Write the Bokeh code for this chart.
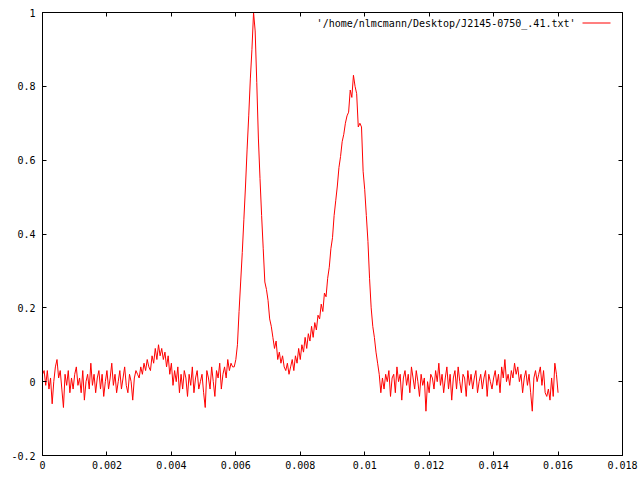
from bokeh.plotting import figure
from bokeh.models import Range1d, LinearAxis, FixedTicker, Label, BoxAnnotation, ColumnDataSource
from bokeh.embed import file_html
from bokeh.resources import INLINE

# ---- data -------------------------------------------------------------
bin_width = 0.00005  # seconds per bin

baseline_pre = [
    0.02, 0.03, -0.01, 0.03, -0.02, 0.01, -0.06, 0.00, 0.04, 0.06,
    0.01, 0.03, -0.02, -0.07, 0.02, -0.01, 0.03, -0.03, 0.01, -0.02,
    0.02, 0.04, -0.01, 0.01, -0.03, 0.03, -0.05, 0.00, 0.02, -0.02,
    0.05, -0.01, 0.02, -0.03, 0.01, 0.03, -0.02, 0.02, -0.04, 0.00,
    0.03, -0.02, 0.01, 0.05, -0.01, 0.02, -0.03, 0.00, 0.03, -0.02,
    0.01, 0.04, -0.01, -0.03, 0.02, 0.00, -0.05, 0.01, 0.03, 0.02,
    0.01, 0.04, 0.02, 0.05, 0.03, 0.06, 0.04, 0.03, 0.07, 0.05,
    0.09, 0.06, 0.10, 0.07, 0.09, 0.06, 0.08, 0.04, 0.07, 0.02,
    0.05, -0.01, 0.03, 0.00, 0.04, -0.03, 0.02, -0.02, 0.03, 0.01,
    -0.04, 0.02, -0.01, 0.04, -0.03, 0.01, 0.03, -0.02, 0.00, 0.02,
    -0.03, -0.07, 0.03, 0.01, -0.02, 0.04, 0.00, -0.04, 0.03, 0.01,
    0.05, -0.02, 0.02, 0.04, 0.01, 0.06, 0.03, 0.05, 0.04,
]

pulse_region = [
    0.04, 0.06, 0.10, 0.19, 0.27, 0.35, 0.44, 0.53, 0.63, 0.72,
    0.82, 0.90, 1.00, 0.95, 0.81, 0.66, 0.55, 0.45, 0.36, 0.27,
    0.25, 0.22, 0.17, 0.15, 0.12, 0.09, 0.11, 0.06, 0.08, 0.05,
    0.07, 0.04, 0.03, 0.05, 0.02, 0.04, 0.06, 0.03, 0.07, 0.05,
    0.09, 0.06, 0.10, 0.08, 0.12, 0.09, 0.13, 0.11, 0.15, 0.12,
    0.16, 0.14, 0.18, 0.17, 0.21, 0.19, 0.24, 0.23, 0.28, 0.31,
    0.36, 0.39, 0.45, 0.49, 0.53, 0.58, 0.61, 0.65, 0.67, 0.70,
    0.72, 0.73, 0.79, 0.77, 0.83, 0.80, 0.78, 0.69, 0.70, 0.69,
    0.57, 0.52, 0.45, 0.38, 0.28, 0.20, 0.15, 0.12, 0.08, 0.05,
    0.02, -0.03,
]

baseline_post = [
    0.01, -0.02, 0.02, 0.00, 0.03, -0.04, 0.01, 0.02, -0.03, 0.04,
    0.00, 0.02, -0.05, 0.01, 0.03, -0.01, 0.02, -0.03, 0.04, 0.01,
    -0.02, 0.03, 0.00, -0.04, 0.02, -0.01, 0.01, -0.08, 0.00, -0.03,
    0.02, 0.01, -0.02, 0.03, 0.00, 0.05, -0.01, 0.02, -0.03, 0.01,
    0.04, -0.02, 0.02, -0.05, 0.01, 0.03, -0.02, 0.04, 0.00, -0.03,
    0.02, 0.01, -0.04, 0.03, -0.01, 0.02, -0.02, 0.01, 0.03, -0.03,
    0.00, 0.02, -0.02, 0.01, 0.03, -0.04, 0.02, 0.00, -0.02, 0.01,
    0.03, -0.01, 0.02, -0.03, 0.04, 0.01, 0.06, 0.00, 0.02, -0.01,
    0.03, 0.01, 0.05, 0.02, 0.04, 0.00, 0.02, -0.03, 0.01, 0.03,
    -0.01, 0.02, -0.03, -0.08, 0.01, 0.03, 0.00, 0.02, 0.04, -0.01,
    0.03, -0.03, -0.04, -0.02, -0.05, 0.01, -0.04, 0.05, 0.02, -0.03,
]

x_ticks = [0, 0.002, 0.004, 0.006, 0.008, 0.01, 0.012, 0.014, 0.016, 0.018]
x_tick_labels = ["0", "0.002", "0.004", "0.006", "0.008", "0.01", "0.012", "0.014", "0.016", "0.018"]
y_ticks = [-0.2, 0, 0.2, 0.4, 0.6, 0.8, 1]
y_tick_labels = ["-0.2", "0", "0.2", "0.4", "0.6", "0.8", "1"]
series_label = "'/home/nlmcmann/Desktop/J2145-0750_.41.txt'"

profile = baseline_pre + pulse_region + baseline_post
phase = [i * bin_width for i in range(len(profile))]

# ---- figure -----------------------------------------------------------
FONT = "DejaVu Sans Mono"

p = figure(width=640, height=480, output_backend="svg", toolbar_location=None,
           x_range=Range1d(0, 0.018), y_range=Range1d(-0.2, 1),
           min_border_left=42, min_border_right=18, min_border_top=12, min_border_bottom=25)
p.xgrid.visible = False
p.ygrid.visible = False
p.outline_line_color = "black"
p.outline_line_width = 1
p.background_fill_color = "white"
p.border_fill_color = "white"

src = ColumnDataSource(dict(x=phase, y=profile))
p.line("x", "y", source=src, line_color="#ff0000", line_width=1)


def style(ax, ticks, labels, show_labels, standoff):
    ax.ticker = FixedTicker(ticks=ticks)
    if show_labels:
        ax.major_label_overrides = {t: l for t, l in zip(ticks, labels)}
    else:
        ax.major_label_overrides = {t: "" for t in ticks}
    ax.major_tick_in = 4
    ax.major_tick_out = 0
    ax.minor_tick_in = 0
    ax.minor_tick_out = 0
    ax.axis_line_color = "black"
    ax.major_tick_line_color = "black"
    ax.major_label_text_font = FONT
    ax.major_label_text_color = "black"
    ax.major_label_standoff = standoff
    ax.major_label_text_font_size = "10px"


style(p.xaxis[0], x_ticks, x_tick_labels, True, 5)
style(p.yaxis[0], y_ticks, y_tick_labels, True, 7)

top_ax = LinearAxis()
style(top_ax, x_ticks, x_tick_labels, False, 0)
p.add_layout(top_ax, "above")
right_ax = LinearAxis()
style(right_ax, y_ticks, y_tick_labels, False, 0)
p.add_layout(right_ax, "right")

# legend (gnuplot style: text then line sample)
p.add_layout(Label(x=533, y=432, x_units="screen", y_units="screen", text=series_label,
                   text_align="right", text_baseline="middle", text_font=FONT,
                   text_font_size="10px", text_color="black"))
p.add_layout(BoxAnnotation(left=540, right=568, top=433, bottom=432,
                           left_units="screen", right_units="screen",
                           top_units="screen", bottom_units="screen",
                           fill_color="#ff0000", fill_alpha=1, line_color=None))

open("out.html", "w").write(file_html(p, INLINE))
